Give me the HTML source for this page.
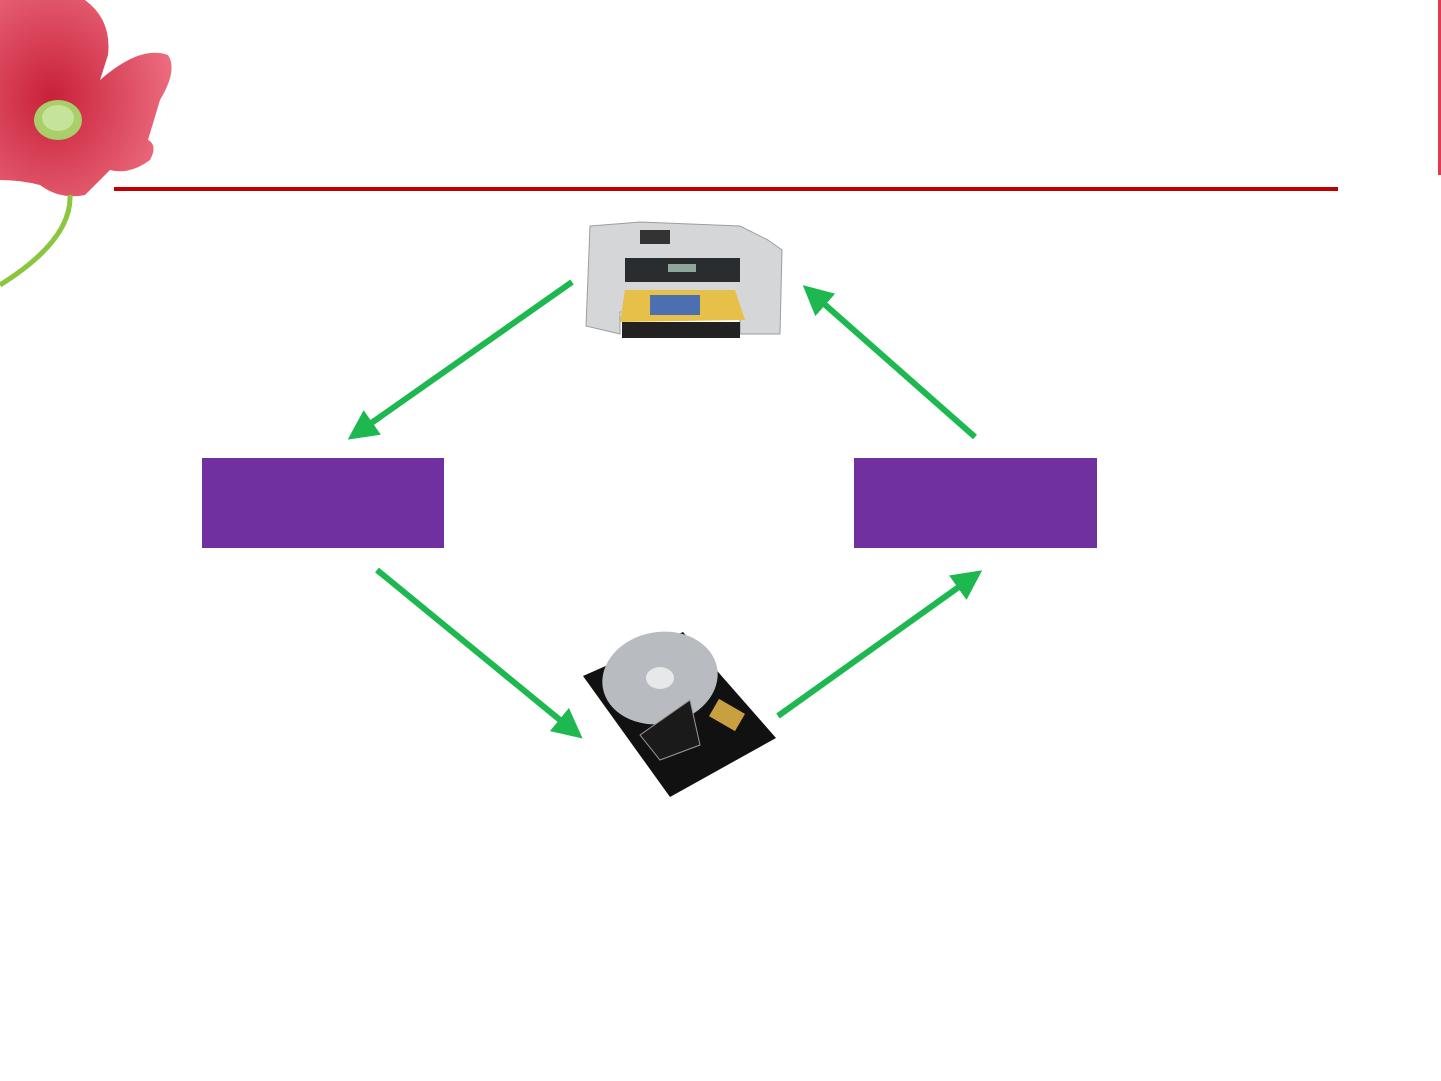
<!DOCTYPE html>
<html><head><style>html,body{margin:0;padding:0;background:#fff;}svg{display:block}</style></head>
<body>
<svg width="1441" height="1081" viewBox="0 0 1441 1081" xmlns="http://www.w3.org/2000/svg">
<defs>
<radialGradient id="pet" cx="0.3" cy="0.5" r="0.8"><stop offset="0" stop-color="#c8203a"/><stop offset="1" stop-color="#f07585"/></radialGradient>
<marker id="ah" viewBox="0 0 10 10" refX="5" refY="5" markerWidth="5" markerHeight="5" orient="auto"><path d="M0,0 L10,5 L0,10 z" fill="#1db84f"/></marker>
</defs>
<!-- flower -->
<path d="M0,0 L85,0 Q112,20 108,55 L100,80 Q140,45 168,55 Q178,70 160,100 L148,140 Q158,145 150,160 Q130,175 110,170 L85,195 Q60,200 40,185 Q20,180 0,180 Z" fill="url(#pet)"/>
<path d="M70,195 Q72,240 0,285" stroke="#8cc63f" stroke-width="5" fill="none"/>
<ellipse cx="58" cy="120" rx="24" ry="20" fill="#a8cf6a"/>
<ellipse cx="58" cy="118" rx="16" ry="13" fill="#c6e39a"/>
<rect x="1438" y="0" width="3" height="175" fill="#e03a50"/>
<!-- rule -->
<rect x="114" y="187" width="1224" height="4" fill="#c00000"/>
<!-- printer -->
<path d="M590,226 L640,222 L740,226 L768,240 L782,250 L780,334 L740,334 L740,312 L620,312 L620,334 L586,326 Z" fill="#d4d6d8" stroke="#9a9ea2"/>
<rect x="640" y="230" width="30" height="14" fill="#333"/>
<rect x="625" y="258" width="115" height="24" fill="#2a2d30"/>
<rect x="668" y="264" width="28" height="8" fill="#8fa79a"/>
<polygon points="625,290 735,290 745,320 620,322" fill="#e7c04a"/>
<rect x="650" y="295" width="50" height="20" fill="#4b6fb0"/>
<rect x="622" y="322" width="118" height="16" fill="#222"/>
<!-- HDD -->
<polygon points="583,676 683,632 776,738 670,797" fill="#111"/>
<ellipse cx="660" cy="678" rx="58" ry="46" fill="#b8bcc0" transform="rotate(-10 660 678)"/>
<ellipse cx="660" cy="678" rx="14" ry="11" fill="#e6e8ea"/>
<path d="M690,700 L700,745 L660,760 L640,735 Z" fill="#1a1a1a" stroke="#999"/>
<rect x="712" y="705" width="30" height="20" fill="#c8a040" transform="rotate(30 727 715)"/>
<!-- arrows -->
<g stroke="#1db84f" stroke-width="6" fill="none" marker-end="url(#ah)">
<line x1="572" y1="282" x2="360" y2="431"/>
<line x1="975" y1="437" x2="814" y2="295"/>
<line x1="377" y1="570" x2="571" y2="729"/>
<line x1="778" y1="716" x2="970" y2="579"/>
</g>
<!-- boxes -->
<rect x="202" y="458" width="242" height="90" fill="#7030a0"/>
<rect x="854" y="458" width="243" height="90" fill="#7030a0"/>
</svg>
</body></html>
